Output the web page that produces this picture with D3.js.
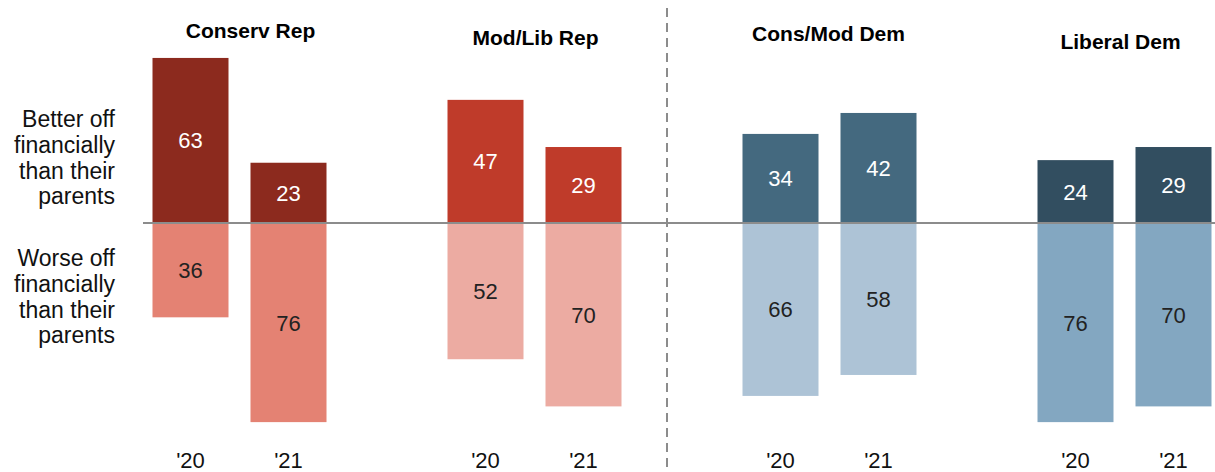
<!DOCTYPE html>
<html lang="en">
<head>
<meta charset="UTF-8" />
<title>Better or worse off than parents</title>
<style>
  body { margin: 0; background: #fff; }
  svg text { font-family: "Liberation Sans", Arial, sans-serif; }
  .title { font-family: "Liberation Sans Narrow", "Liberation Sans", Arial, sans-serif; font-weight: bold; font-size: 21px; fill: #000; }
</style>
</head>
<body>
<script src="https://cdn.jsdelivr.net/npm/d3@7"></script>
<div id="app"></div>
<script>
// data
const groups = ["Conserv Rep", "Mod/Lib Rep", "Cons/Mod Dem", "Liberal Dem"];
const years = ["'20", "'21"];
const better = [[63, 23], [47, 29], [34, 42], [24, 29]];
const worse = [[36, 76], [52, 70], [66, 58], [76, 70]];
const rowLabels = [["Better off", "financially", "than their", "parents"],
                   ["Worse off", "financially", "than their", "parents"]];

// colours per group: [dark, light]
const colors = [["#8c2a1e", "#e48273"], ["#bf3b2a", "#ecaba2"], ["#44697f", "#adc3d6"], ["#324e60", "#83a7c1"]];
const titleY = [38, 45, 41, 49];

const w = 1215, h = 472;
const svg = d3.select("#app").append("svg")
  .attr("width", w).attr("height", h);

const groupX = d3.scaleBand().domain(groups).range([92, 1272]);
const yearX = d3.scalePoint().domain(years).range([-49, 49]);
const y = d3.scaleLinear().domain([0, 100]).range([223, -39]);
const barW = 76;
const cx = (g, yr) => groupX(g) + groupX.bandwidth() / 2 + yearX(yr);

// bars
const rows = [];
groups.forEach((g, gi) => {
  years.forEach((yr, yi) => {
    rows.push({ g, gi, yr, v: better[gi][yi], dir: 1 });
    rows.push({ g, gi, yr, v: worse[gi][yi], dir: -1 });
  });
});

svg.selectAll("rect.bar").data(rows).enter().append("rect")
  .attr("class", "bar")
  .attr("x", d => cx(d.g, d.yr) - barW / 2)
  .attr("y", d => d.dir > 0 ? y(d.v) : y(0))
  .attr("width", barW)
  .attr("height", d => Math.abs(y(d.v) - y(0)))
  .attr("fill", d => colors[d.gi][d.dir > 0 ? 0 : 1]);

svg.selectAll("text.val").data(rows).enter().append("text")
  .attr("class", "val")
  .attr("x", d => cx(d.g, d.yr))
  .attr("y", d => (y(0) + (d.dir > 0 ? y(d.v) : y(-d.v))) / 2 + 8)
  .attr("text-anchor", "middle")
  .attr("font-size", 22)
  .attr("fill", d => d.dir > 0 ? "#fff" : "#222")
  .text(d => d.v);

// zero line
svg.append("line")
  .attr("x1", 143).attr("x2", w)
  .attr("y1", y(0)).attr("y2", y(0))
  .attr("stroke", "#8c8c8c").attr("stroke-width", 2);

// divider
svg.append("line")
  .attr("x1", 667).attr("x2", 667)
  .attr("y1", 8).attr("y2", h)
  .attr("stroke", "#8c8c8c").attr("stroke-width", 2)
  .attr("stroke-dasharray", "9,6");

// group titles
svg.selectAll("text.title").data(groups).enter().append("text")
  .attr("class", "title")
  .attr("x", (d, i) => groupX(d) + groupX.bandwidth() / 2 + [11, 1, -1, -4][i])
  .attr("y", (d, i) => titleY[i])
  .attr("text-anchor", "middle")
  .text(d => d);

// year labels
groups.forEach(g => {
  years.forEach(yr => {
    svg.append("text")
      .attr("x", cx(g, yr))
      .attr("y", 468)
      .attr("text-anchor", "middle")
      .attr("font-size", 22)
      .attr("fill", "#111")
      .text(yr);
  });
});

// row labels
[127, 266].forEach((y0, ri) => {
  const t = svg.append("text")
    .attr("text-anchor", "end")
    .attr("font-size", 23)
    .attr("fill", "#111");
  rowLabels[ri].forEach((line, li) => {
    t.append("tspan").attr("x", 115).attr("y", y0 + li * 25.8).text(line);
  });
});
</script>
</body>
</html>
